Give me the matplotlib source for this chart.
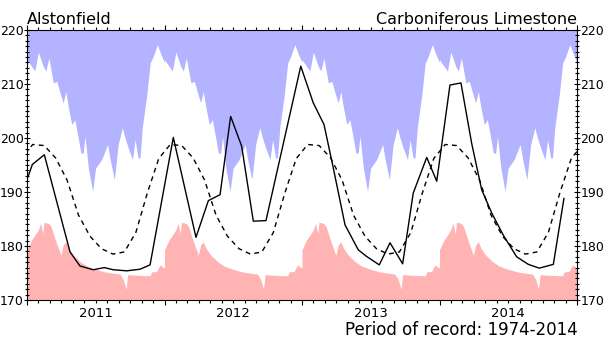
import numpy as np
import matplotlib
matplotlib.use("Agg")
import matplotlib.pyplot as plt
from matplotlib.ticker import FixedLocator, MultipleLocator, FuncFormatter

site = "Alstonfield"
aquifer = "Carboniferous Limestone"
record = "Period of record: 1974-2014"
years = [2011, 2012, 2013, 2014]

# long-term maximum by day of year (m)
max_day = [0, 21, 30, 43, 50, 58, 70, 79, 88, 96, 103, 110, 119, 127, 136, 143,
           149, 154, 163, 174, 182, 198, 214, 220, 232, 242, 253, 260, 269, 280,
           287, 295, 300, 306, 318, 327, 335, 346, 356, 365]
max_lvl = [214.5, 212.4, 215.9, 213.3, 212.4, 214.8, 210.2, 210.5, 208.3, 206.5,
           208.6, 205.6, 202.5, 203.4, 200.0, 197.2, 197.2, 200.3, 194.4, 190.1,
           194.4, 196.0, 198.8, 196.3, 192.3, 198.8, 201.9, 200.0, 198.1, 196.0,
           199.7, 196.3, 196.3, 201.9, 208.0, 213.9, 215.1, 217.3, 215.4, 214.0]

# long-term minimum by day of year (m)
min_day = [0, 12, 21, 30, 36, 42, 45, 57, 64, 74, 83, 90, 96, 103, 110, 123,
           141, 158, 181, 207, 234, 247, 256, 263, 267, 287, 313, 327, 331, 344,
           353, 362, 365]
min_lvl = [179.3, 181.1, 182.0, 183.0, 184.2, 182.3, 184.4, 184.2, 183.6, 181.4,
           179.6, 178.3, 180.2, 180.8, 179.6, 178.3, 177.1, 176.3, 175.7, 175.2,
           174.9, 174.8, 173.7, 172.0, 174.7, 174.6, 174.5, 174.5, 175.2, 175.3,
           176.5, 176.0, 176.0]

# long-term monthly mean (m), Jan..Dec
mean_lvl = [198.8, 198.6, 196.3, 192.2, 185.7, 181.8, 179.5, 178.5, 178.9,
            182.5, 189.8, 196.2]

# observed levels
obs_t = [2011.000, 2011.039, 2011.126, 2011.313, 2011.385, 2011.482, 2011.562,
         2011.628, 2011.725, 2011.822, 2011.895, 2012.064, 2012.229, 2012.319,
         2012.404, 2012.481, 2012.561, 2012.646, 2012.738, 2012.991, 2013.082,
         2013.160, 2013.228, 2013.313, 2013.409, 2013.468, 2013.562, 2013.640,
         2013.732, 2013.809, 2013.907, 2013.980, 2014.076, 2014.156, 2014.234,
         2014.307, 2014.380, 2014.464, 2014.561, 2014.646, 2014.726, 2014.828,
         2014.905]
obs_lvl = [192.3, 195.1, 196.9, 178.9, 176.3, 175.6, 176.0, 175.6, 175.4, 175.7,
           176.5, 200.1, 181.6, 188.4, 189.5, 204.0, 198.5, 184.6, 184.7, 213.3,
           206.5, 202.5, 194.4, 183.9, 179.3, 178.1, 176.5, 180.6, 176.7, 189.8,
           196.4, 192.0, 209.8, 210.2, 199.0, 190.4, 186.1, 182.0, 178.0, 176.6,
           175.9, 176.6, 188.8]

# build the calendar series for the plotted years
xs_max, ys_max, xs_min, ys_min = [], [], [], []
for y in years:
    xs_max += [y + d / 365.0 for d in max_day]
    ys_max += max_lvl
    xs_min += [y + d / 365.0 for d in min_day]
    ys_min += min_lvl
mean_x, mean_y = [], []
for y in [years[0] - 1] + years + [years[-1] + 1]:
    for m in range(12):
        mean_x.append(y + (m + 0.5) / 12.0)
        mean_y.append(mean_lvl[m])

fig = plt.figure(figsize=(6.11, 3.38), dpi=100)
ax = fig.add_axes([27 / 611, 38 / 338, 550 / 611, 270 / 338])

ax.fill_between(xs_max, ys_max, 220, color="#b3b3ff", lw=0)
ax.fill_between(xs_min, 170, ys_min, color="#ffb3b3", lw=0)
ax.plot(mean_x, mean_y, color="black", lw=1.0, dashes=(3.5, 3))
ax.plot(obs_t, obs_lvl, color="black", lw=1.0)

ax.set_xlim(years[0], years[-1] + 1)
ax.set_ylim(170, 220)

ax.xaxis.set_major_locator(FixedLocator(range(years[0], years[-1] + 2)))
ax.xaxis.set_major_formatter(FuncFormatter(lambda v, p: ""))
months = [y + k / 12.0 for y in range(years[0], years[-1] + 1) for k in range(1, 12)]
ax.xaxis.set_minor_locator(FixedLocator(months))
ax.xaxis.set_minor_formatter(FuncFormatter(
    lambda v, p: "%d" % int(v) if abs(v - int(v) - 0.5) < 1e-6 else ""))
ax.yaxis.set_major_locator(MultipleLocator(10))
ax.yaxis.set_minor_locator(MultipleLocator(1))

ax.tick_params(axis="x", which="both", direction="out", top=True,
               labelsize=9.5, width=0.8)
ax.tick_params(axis="x", which="major", length=3.5, pad=3)
ax.tick_params(axis="x", which="minor", length=2, pad=3)
ax.tick_params(axis="y", which="both", direction="inout", right=True,
               labelright=True, labelsize=9, width=0.8, pad=0.3)
ax.tick_params(axis="y", which="major", length=4)
ax.tick_params(axis="y", which="minor", length=2.5)

ax.text(0, 1.012, site, transform=ax.transAxes, ha="left", va="bottom", fontsize=11.5)
ax.text(1, 1.012, aquifer, transform=ax.transAxes, ha="right", va="bottom", fontsize=11.5)
fig.text(578 / 611, 3 / 338, record, ha="right", va="baseline", fontsize=12)

fig.savefig("out.png", dpi=100)
